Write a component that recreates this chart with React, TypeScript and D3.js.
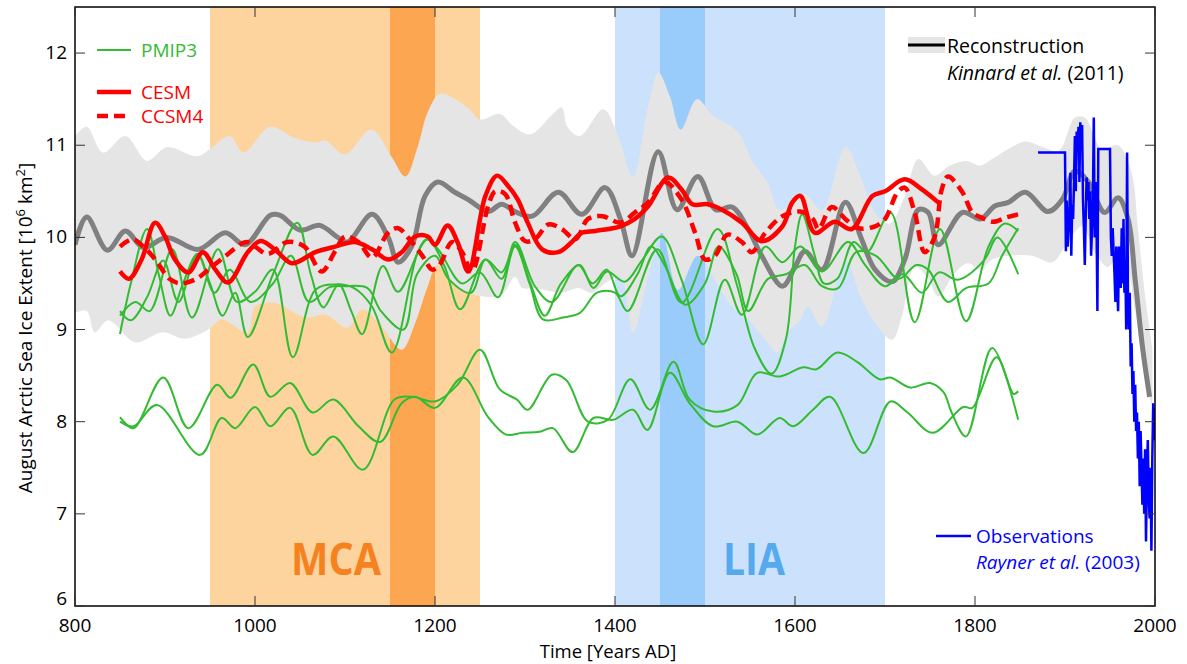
import * as d3 from "d3";

type Pt = [number, number];

// periods (years AD)
const mcaRange: Pt = [950, 1250];
const mcaCore: Pt = [1150, 1200];
const liaRange: Pt = [1400, 1700];
const liaCore: Pt = [1450, 1500];

const xTicks = [800, 1000, 1200, 1400, 1600, 1800, 2000];
const yTicks = [6, 7, 8, 9, 10, 11, 12];

// Kinnard et al. (2011) reconstruction, 10^6 km2
const reconstruction: Pt[] = [
  [800, 9.92], [813, 10.22], [836, 9.86], [856, 10.07], [876, 9.89], [902, 10.0], [937, 9.87],
  [967, 10.05], [989, 9.92], [1017, 10.24], [1028, 10.24], [1050, 10.08], [1072, 10.13], [1092, 10.0],
  [1103, 9.95], [1130, 10.25], [1148, 10.0], [1159, 9.73], [1174, 9.9], [1189, 10.45], [1203, 10.6],
  [1222, 10.49], [1237, 10.41], [1259, 10.28], [1274, 10.36], [1289, 10.28], [1308, 10.23], [1337, 10.49],
  [1363, 10.25], [1389, 10.54], [1406, 10.2], [1419, 9.8], [1448, 10.93], [1469, 10.3], [1492, 10.66],
  [1512, 10.3], [1530, 10.33], [1548, 10.09], [1563, 9.8], [1586, 9.47], [1600, 9.68], [1611, 9.85],
  [1630, 9.65], [1656, 10.38], [1674, 9.98], [1689, 9.65], [1708, 9.52], [1722, 9.76], [1737, 10.3],
  [1748, 10.27], [1759, 9.92], [1786, 10.27], [1806, 10.2], [1822, 10.34], [1837, 10.38], [1856, 10.49],
  [1881, 10.28], [1897, 10.41], [1911, 10.72], [1926, 10.6], [1944, 10.27], [1959, 10.43], [1970, 10.2],
  [1978, 9.54], [1986, 8.82], [1994, 8.27],
];

const reconUpper: Pt[] = [
  [800, 11.1], [813, 11.2], [831, 10.92], [856, 11.1], [880, 10.83], [902, 10.98], [936, 10.88],
  [950, 10.96], [972, 11.1], [987, 10.92], [1017, 11.2], [1044, 11.08], [1067, 11.03], [1078, 11.05],
  [1100, 10.9], [1129, 11.17], [1152, 10.87], [1167, 10.66], [1181, 10.99], [1192, 11.36], [1206, 11.56],
  [1236, 11.41], [1250, 11.28], [1272, 11.34], [1287, 11.21], [1306, 11.12], [1331, 11.34], [1341, 11.41],
  [1347, 11.2], [1361, 11.1], [1387, 11.39], [1402, 11.14], [1420, 10.66], [1436, 11.39], [1448, 11.79],
  [1461, 11.53], [1473, 11.17], [1491, 11.5], [1509, 11.32], [1536, 11.15], [1553, 10.82], [1569, 10.6],
  [1583, 10.3], [1595, 10.35], [1611, 10.47], [1630, 10.3], [1656, 10.98], [1674, 10.63], [1689, 10.27],
  [1705, 10.15], [1722, 10.45], [1737, 10.85], [1755, 10.67], [1772, 10.78], [1790, 10.83], [1806, 10.78],
  [1819, 10.85], [1837, 10.96], [1856, 11.04], [1875, 10.98], [1893, 10.94], [1911, 11.3], [1922, 11.3],
  [1941, 10.96], [1959, 11.0], [1974, 10.7], [1981, 10.1], [1989, 9.36], [1997, 8.8],
];

const reconLower: Pt[] = [
  [800, 9.18], [813, 9.2], [822, 8.97], [837, 9.1], [867, 8.86], [897, 8.97], [922, 8.9], [948, 9.0],
  [963, 9.11], [992, 8.97], [1000, 9.25], [1022, 9.29], [1056, 9.13], [1078, 9.16], [1103, 9.02],
  [1119, 9.22], [1141, 9.03], [1163, 8.78], [1178, 9.07], [1192, 9.47], [1203, 9.7], [1225, 9.45],
  [1252, 9.36], [1274, 9.38], [1289, 9.57], [1297, 9.45], [1311, 9.45], [1341, 9.4], [1359, 9.45],
  [1374, 9.4], [1392, 9.52], [1406, 9.57], [1420, 8.97], [1436, 9.54], [1452, 10.05], [1470, 9.43],
  [1492, 9.8], [1511, 9.54], [1530, 9.25], [1548, 9.11], [1567, 8.89], [1581, 8.75], [1592, 8.97],
  [1606, 9.1], [1614, 9.25], [1630, 9.03], [1656, 9.74], [1674, 9.33], [1692, 9.03], [1708, 8.89],
  [1719, 9.15], [1733, 9.68], [1748, 9.55], [1759, 9.36], [1778, 9.62], [1792, 9.72], [1806, 9.65],
  [1819, 9.76], [1837, 9.8], [1863, 9.8], [1886, 9.73], [1900, 9.9], [1919, 10.12], [1933, 9.84],
  [1948, 9.68], [1963, 9.9], [1978, 9.2], [1989, 8.45], [1997, 8.16],
];

const cesm: Pt[] = [
  [850, 9.63], [860, 9.55], [874, 9.76], [889, 10.16], [900, 10.01], [911, 9.76], [926, 9.62], [942, 9.84],
  [956, 9.65], [970, 9.51], [992, 9.84], [1006, 9.96], [1022, 9.87], [1041, 9.72], [1067, 9.84], [1089, 9.9],
  [1111, 9.95], [1130, 9.87], [1148, 9.76], [1163, 9.84], [1178, 10.01], [1192, 10.01], [1200, 9.92],
  [1214, 10.13], [1225, 9.95], [1237, 9.63], [1256, 10.45], [1269, 10.67], [1281, 10.56], [1292, 10.41],
  [1303, 10.16], [1319, 9.87], [1337, 9.84], [1352, 9.95], [1363, 10.05], [1378, 10.07], [1406, 10.12],
  [1422, 10.2], [1437, 10.34], [1459, 10.65], [1474, 10.52], [1486, 10.36], [1503, 10.36], [1519, 10.3],
  [1541, 10.16], [1563, 9.96], [1586, 10.12], [1597, 10.38], [1606, 10.45], [1622, 10.05], [1644, 10.17],
  [1663, 10.09], [1686, 10.45], [1700, 10.5], [1722, 10.63], [1741, 10.52], [1759, 10.38],
];

const ccsm4: Pt[] = [
  [850, 9.9], [864, 9.98], [876, 9.9], [890, 9.75], [905, 9.55], [917, 9.5], [935, 9.55], [948, 9.65],
  [965, 9.78], [990, 9.95], [1000, 9.9], [1014, 9.82], [1036, 9.95], [1055, 9.9], [1074, 9.63],
  [1089, 9.85], [1100, 10.01], [1115, 9.95], [1130, 9.78], [1148, 10.05], [1159, 10.1], [1170, 10.0],
  [1186, 9.8], [1197, 9.65], [1205, 9.7], [1219, 9.95], [1230, 9.84], [1241, 9.63], [1259, 10.34],
  [1267, 10.5], [1278, 10.47], [1289, 10.16], [1300, 9.96], [1311, 9.98], [1326, 10.14], [1341, 10.09],
  [1356, 9.98], [1370, 10.2], [1386, 10.23], [1406, 10.16], [1422, 10.27], [1437, 10.38], [1455, 10.6],
  [1474, 10.41], [1489, 10.05], [1500, 9.76], [1511, 9.8], [1525, 10.03], [1541, 9.95], [1552, 9.84],
  [1567, 10.05], [1586, 10.23], [1606, 10.28], [1620, 10.2], [1626, 10.09], [1641, 10.33], [1656, 10.2],
  [1670, 10.1], [1689, 10.12], [1700, 10.2], [1714, 10.49], [1722, 10.54], [1733, 10.27], [1744, 9.84],
  [1755, 10.0], [1763, 10.52], [1770, 10.66], [1786, 10.49], [1797, 10.27], [1806, 10.22], [1820, 10.17],
  [1836, 10.22], [1848, 10.25],
];

const pmip3A: Pt[] = [
  [850, 8.95], [862, 9.5], [880, 10.09], [893, 9.6], [906, 9.15], [920, 9.5], [936, 9.82], [950, 9.5],
  [964, 9.15], [978, 9.4], [992, 8.92], [1020, 9.6], [1047, 10.16], [1062, 9.6], [1076, 9.24], [1093, 9.49],
  [1107, 9.2], [1119, 8.95], [1142, 9.69], [1159, 9.41], [1191, 9.98], [1210, 9.7], [1228, 9.22],
  [1256, 9.76], [1274, 9.62], [1289, 9.92], [1306, 9.5], [1322, 9.15], [1340, 9.5], [1361, 9.7],
  [1376, 9.45], [1391, 9.63], [1411, 9.52], [1430, 9.75], [1452, 10.01], [1474, 9.54], [1498, 8.84],
  [1522, 9.54], [1541, 9.16], [1567, 9.9], [1586, 9.73], [1606, 9.9], [1630, 9.63], [1659, 9.95],
  [1678, 9.7], [1700, 9.47], [1720, 9.6], [1741, 9.4], [1760, 9.62], [1781, 9.54], [1810, 9.75],
  [1825, 10.0], [1848, 9.6],
];

const pmip3B: Pt[] = [
  [850, 9.15], [867, 9.3], [883, 9.2], [908, 9.87], [930, 9.13], [959, 9.87], [980, 9.3], [1000, 9.41],
  [1020, 9.65], [1042, 8.7], [1067, 9.43], [1089, 9.49], [1110, 9.45], [1130, 9.25], [1152, 8.75],
  [1181, 9.84], [1192, 9.98], [1205, 9.85], [1230, 9.5], [1250, 9.62], [1270, 9.35], [1289, 9.9],
  [1305, 9.5], [1320, 9.11], [1342, 9.13], [1361, 9.18], [1380, 9.4], [1400, 9.4], [1414, 9.2],
  [1447, 9.87], [1474, 9.29], [1514, 10.09], [1535, 9.5], [1555, 8.8], [1574, 8.52], [1590, 8.9],
  [1600, 9.9], [1608, 10.25], [1622, 9.8], [1632, 9.5], [1647, 9.55], [1665, 9.95], [1680, 9.84],
  [1706, 10.27], [1733, 9.08], [1761, 10.09], [1790, 9.09], [1815, 9.9], [1833, 10.15], [1848, 10.07],
];

const pmip3C: Pt[] = [
  [850, 9.2], [862, 9.1], [880, 9.35], [898, 9.75], [915, 9.3], [936, 9.82], [955, 9.4], [972, 9.65],
  [995, 9.3], [1020, 9.5], [1040, 9.8], [1060, 9.3], [1083, 9.46], [1100, 9.47], [1125, 9.45],
  [1140, 9.2], [1165, 9.0], [1180, 9.6], [1200, 9.8], [1215, 9.55], [1240, 9.4], [1256, 9.76],
  [1274, 9.55], [1289, 9.95], [1311, 9.47], [1330, 9.3], [1359, 9.7], [1375, 9.5], [1391, 9.65],
  [1406, 9.36], [1425, 9.6], [1440, 9.9], [1455, 9.7], [1478, 9.27], [1500, 9.5], [1515, 9.9],
  [1535, 9.6], [1548, 9.2], [1570, 9.55], [1590, 9.6], [1611, 9.7], [1630, 9.47], [1648, 9.45],
  [1668, 9.84], [1690, 9.8], [1715, 9.55], [1735, 9.7], [1748, 9.65], [1770, 9.3], [1790, 9.45],
  [1815, 9.5], [1830, 9.8], [1848, 10.1],
];

const pmip3D: Pt[] = [
  [850, 8.05], [865, 7.93], [898, 8.48], [926, 7.93], [958, 8.4], [973, 8.26], [998, 8.62], [1017, 8.27],
  [1039, 8.42], [1064, 8.1], [1087, 8.24], [1115, 7.95], [1139, 7.78], [1163, 8.2], [1178, 8.27],
  [1200, 8.15], [1231, 8.48], [1259, 8.05], [1279, 7.86], [1297, 7.88], [1316, 7.89], [1331, 7.93],
  [1353, 7.67], [1376, 8.04], [1398, 8.02], [1420, 8.13], [1436, 7.91], [1461, 8.53], [1483, 8.2],
  [1509, 7.95], [1536, 8.0], [1558, 7.86], [1583, 8.04], [1598, 7.95], [1620, 8.13], [1639, 8.27],
  [1676, 7.66], [1706, 8.22], [1725, 8.1], [1753, 7.88], [1787, 8.16], [1797, 8.15], [1824, 8.7],
  [1843, 8.3], [1848, 8.33],
];

const pmip3E: Pt[] = [
  [850, 8.0], [865, 7.95], [891, 8.18], [939, 7.64], [963, 8.04], [978, 7.93], [1000, 8.16], [1017, 7.95],
  [1039, 8.15], [1064, 7.64], [1087, 7.84], [1120, 7.48], [1155, 8.24], [1175, 8.27], [1200, 8.22],
  [1225, 8.4], [1250, 8.78], [1272, 8.35], [1291, 8.24], [1303, 8.13], [1330, 8.51], [1346, 8.45],
  [1370, 8.0], [1392, 8.02], [1417, 8.46], [1439, 8.13], [1465, 8.65], [1483, 8.24], [1509, 8.11],
  [1536, 8.18], [1558, 8.53], [1583, 8.49], [1609, 8.59], [1624, 8.57], [1647, 8.75], [1669, 8.65],
  [1694, 8.46], [1706, 8.48], [1728, 8.37], [1750, 8.42], [1765, 8.32], [1774, 8.1], [1790, 7.84],
  [1819, 8.8], [1848, 8.02],
];

// Rayner et al. (2003) observations
const observations: Pt[] = [
  [1870, 10.92], [1900, 10.92], [1901, 9.85], [1902, 10.4], [1903, 9.9], [1904, 10.1], [1905, 10.3],
  [1906, 10.7], [1907, 9.8], [1908, 10.35], [1909, 10.2], [1910, 10.6], [1911, 11.1], [1912, 10.5],
  [1913, 11.15], [1914, 11.0], [1915, 11.2], [1916, 10.6], [1917, 11.25], [1918, 11.0], [1919, 11.22],
  [1920, 10.4], [1921, 10.1], [1922, 9.7], [1923, 10.2], [1924, 10.65], [1925, 10.4], [1926, 10.6],
  [1927, 10.2], [1928, 10.5], [1929, 9.8], [1930, 10.1], [1931, 10.4], [1932, 11.3], [1933, 10.0],
  [1934, 10.6], [1935, 10.2], [1936, 9.2], [1937, 10.96], [1950, 10.96], [1951, 10.0], [1952, 9.8],
  [1953, 10.1], [1954, 9.85], [1955, 9.6], [1956, 9.3], [1957, 9.9], [1958, 9.5], [1959, 9.2],
  [1960, 9.9], [1961, 9.7], [1962, 9.45], [1963, 10.1], [1964, 9.5], [1965, 10.2], [1966, 9.4],
  [1967, 9.75], [1968, 9.0], [1969, 10.92], [1970, 9.3], [1971, 9.0], [1972, 9.4], [1973, 8.6],
  [1974, 8.85], [1975, 8.3], [1976, 8.55], [1977, 8.0], [1978, 8.4], [1979, 7.9], [1980, 8.1],
  [1981, 7.6], [1982, 8.0], [1983, 7.3], [1984, 7.9], [1985, 7.5], [1986, 7.1], [1987, 7.6], [1988, 7.0],
  [1989, 7.7], [1990, 6.7], [1991, 7.4], [1992, 7.8], [1993, 7.2], [1994, 6.95], [1995, 7.5], [1996, 6.6],
  [1997, 7.6], [1998, 8.2], [1999, 7.8], [2000, 8.15],
];

const pmip3 = [pmip3A, pmip3B, pmip3C, pmip3D, pmip3E];

const W = 1187;
const H = 664;
const FONT = "'Open Sans', 'DejaVu Sans', sans-serif";
const GREEN = "#33BB33";

export default function App() {
  const x = d3.scaleLinear().domain([800, 2000]).range([75, 1155]);
  const y = d3.scaleLinear().domain([6, 12.5]).range([606, 7]);
  const [x0, x1] = x.range();
  const [y0, y1] = y.range();

  const smooth = d3
    .line<Pt>()
    .x((d) => x(d[0]))
    .y((d) => y(d[1]))
    .curve(d3.curveCatmullRom.alpha(0.5));
  const straight = d3
    .line<Pt>()
    .x((d) => x(d[0]))
    .y((d) => y(d[1]));

  // band = upper edge forward, lower edge back
  const bandPath =
    (smooth(reconUpper) ?? "") +
    (smooth([...reconLower].reverse()) ?? "").replace(/^M/, "L") +
    "Z";

  const span = (r: Pt, fill: string) => (
    <rect x={x(r[0])} y={y1} width={x(r[1]) - x(r[0])} height={y0 - y1} fill={fill} />
  );

  return (
    <svg width={W} height={H} style={{ position: "absolute", left: 0, top: 0 }} fontFamily={FONT}>
      <defs>
        <clipPath id="plot">
          <rect x={x0} y={y1} width={x1 - x0} height={y0 - y1} />
        </clipPath>
      </defs>
      <rect width={W} height={H} fill="#fff" />

      <g clipPath="url(#plot)">
        {span(mcaRange, "#FDD49E")}
        {span(mcaCore, "#FDA652")}
        {span(liaRange, "#CCE1FB")}
        {span(liaCore, "#99CCFA")}

        <path d={bandPath} fill="#E5E5E5" />
        <path d={smooth(reconstruction) ?? ""} fill="none" stroke="#808080" strokeWidth={5} />

        {pmip3.map((s, i) => (
          <path key={i} d={smooth(s) ?? ""} fill="none" stroke={GREEN} strokeWidth={2} />
        ))}

        <path d={smooth(cesm) ?? ""} fill="none" stroke="#FF0000" strokeWidth={4.5} />
        <path
          d={smooth(ccsm4) ?? ""}
          fill="none"
          stroke="#FF0000"
          strokeWidth={4.5}
          strokeDasharray="11,6"
        />

        <path d={straight(observations) ?? ""} fill="none" stroke="#0000FF" strokeWidth={2.5} />
      </g>

      {/* period labels */}
      <text x={336} y={575} textAnchor="middle" fontSize={44} fontWeight={700} fill="#F5821F"
        textLength={90} lengthAdjust="spacingAndGlyphs">MCA</text>
      <text x={754} y={575} textAnchor="middle" fontSize={44} fontWeight={700} fill="#55AAEE"
        textLength={62} lengthAdjust="spacingAndGlyphs">LIA</text>

      {/* frame + ticks */}
      <rect x={x0} y={y1} width={x1 - x0} height={y0 - y1} fill="none" stroke="#000" strokeWidth={1.5} />
      {yTicks.map((t) => (
        <g key={t}>
          <line x1={x0} x2={x0 + 10} y1={y(t)} y2={y(t)} stroke="#333" strokeWidth={1} />
          <line x1={x1} x2={x1 - 10} y1={y(t)} y2={y(t)} stroke="#333" strokeWidth={1} />
          <text x={x0 - 8} y={y(t) + (t === 6 ? -1 : 6)} textAnchor="end" fontSize={19}>{t}</text>
        </g>
      ))}
      {xTicks.map((t) => (
        <g key={t}>
          <line x1={x(t)} x2={x(t)} y1={y0} y2={y0 - 10} stroke="#333" strokeWidth={1} />
          <line x1={x(t)} x2={x(t)} y1={y1} y2={y1 + 10} stroke="#333" strokeWidth={1} />
          <text x={x(t)} y={632} textAnchor="middle" fontSize={19}>{t}</text>
        </g>
      ))}

      <text x={608} y={658} textAnchor="middle" fontSize={18.5}>Time [Years AD]</text>
      <text transform="translate(32,328) rotate(-90)" textAnchor="middle" fontSize={19}>
        August Arctic Sea Ice Extent [10<tspan dy={-7} fontSize={13}>6</tspan>
        <tspan dy={7}> km</tspan><tspan dy={-7} fontSize={13}>2</tspan><tspan dy={7}>]</tspan>
      </text>

      {/* legends */}
      <line x1={97} x2={131} y1={50} y2={50} stroke={GREEN} strokeWidth={2} />
      <text x={141} y={57} fontSize={19} fill={GREEN}>PMIP3</text>
      <line x1={97} x2={131} y1={92} y2={92} stroke="#FF0000" strokeWidth={4.5} />
      <text x={141} y={99} fontSize={19} fill="#FF0000">CESM</text>
      <line x1={97} x2={131} y1={116} y2={116} stroke="#FF0000" strokeWidth={4.5} strokeDasharray="11,6" />
      <text x={141} y={123} fontSize={19} fill="#FF0000">CCSM4</text>

      <rect x={908} y={37} width={37} height={16} fill="#E5E5E5" />
      <line x1={908} x2={945} y1={45} y2={45} stroke="#000" strokeWidth={3} />
      <text x={947} y={53} fontSize={19.5}>Reconstruction</text>
      <text x={947} y={80} fontSize={19.5}>
        <tspan fontStyle="italic">Kinnard et al.</tspan> (2011)
      </text>

      <line x1={936} x2={971} y1={536} y2={536} stroke="#0000FF" strokeWidth={2.5} />
      <text x={976} y={543} fontSize={19} fill="#0000FF">Observations</text>
      <text x={976} y={569} fontSize={19} fill="#0000FF">
        <tspan fontStyle="italic">Rayner et al.</tspan> (2003)
      </text>
    </svg>
  );
}
